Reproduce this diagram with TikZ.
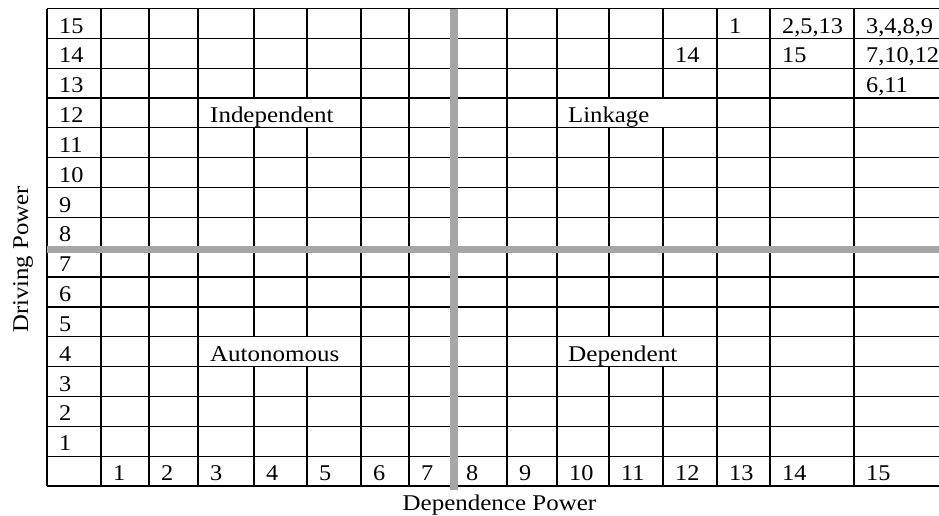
\documentclass[tikz,border=0pt]{standalone}
\usepackage{fontspec}
\setmainfont{Liberation Serif}
\definecolor{sepgray}{RGB}{166,166,166}
\newcommand{\hs}[2][1.1]{\scalebox{#1}[1]{#2}}
\begin{document}
\begin{tikzpicture}[x=1pt,y=-1pt,
  gridline/.style={line width=1.2pt, black},
  sepline/.style={color=sepgray},
  cell/.style={anchor=base west, inner sep=0pt, font=\fontsize{22.5}{26}\selectfont},
]
\useasboundingbox (0,0) rectangle (939,515);
\clip (0,0) rectangle (939,515);
% horizontal grid lines
\foreach \i in {0,...,16}
  \draw[gridline] (47,{8.5+\i*29.84}) -- (945,{8.5+\i*29.84});
% full vertical lines
\foreach \x in {47,101,149,198,361,409,454,507,557,717,770,854,945}
  \draw[gridline] (\x,8.5) -- (\x,485.9);
% vertical lines interrupted by merged cells (rows 12 and 4)
\foreach \x in {254,307,609,663}{
  \draw[gridline] (\x,8.5) -- (\x,{8.5+3*29.84});
  \draw[gridline] (\x,{8.5+4*29.84}) -- (\x,{8.5+11*29.84});
  \draw[gridline] (\x,{8.5+12*29.84}) -- (\x,485.9);
}
% grey quadrant separators
\draw[sepline, line width=8pt] (454,8.5) -- (454,490);
\draw[sepline, line width=7pt] (47,249) -- (945,249);
% row labels (driving power)
\foreach \r in {15,...,1}
  \node[cell] (row\r) at (59,{8.5+(16-\r)*29.84-5.3}) {\hs[1.08]{\r}};
% column labels (dependence power)
\foreach \c/\x in {1/101,2/149,3/198,4/254,5/307,6/361,7/409,8/454,9/507,10/557,11/609,12/663,13/717,14/770,15/854}
  \node[cell] (col\c) at ({\x+12},{8.5+16*29.84-5.3}) {\hs[1.08]{\c}};
% entries
\node[cell] (e1) at (729,{8.5+1*29.84-5.3}) {\hs[1.08]{1}};
\node[cell] (e2) at (782,{8.5+1*29.84-5.3}) {\hs[1.08]{2,5,13}};
\node[cell] (e3) at (866,{8.5+1*29.84-5.3}) {\hs[1.08]{3,4,8,9}};
\node[cell] (e4) at (675,{8.5+2*29.84-5.3}) {\hs[1.08]{14}};
\node[cell] (e5) at (782,{8.5+2*29.84-5.3}) {\hs[1.08]{15}};
\node[cell] (e6) at (866,{8.5+2*29.84-5.3}) {\hs[1.08]{7,10,12}};
\node[cell] (e7) at (866,{8.5+3*29.84-5.3}) {\hs[1.08]{6,11}};
% quadrant names
\node[cell] (indep) at (210,{8.5+4*29.84-5.3}) {\hs[1.11]{Independent}};
\node[cell] (link) at (568,{8.5+4*29.84-5.3}) {\hs[1.1]{Linkage}};
\node[cell] (auto) at (210,{8.5+12*29.84-5.3}) {\hs[1.11]{Autonomous}};
\node[cell] (dep) at (568,{8.5+12*29.84-5.3}) {\hs[1.12]{Dependent}};
% axis titles
\node[cell, rotate=90] (ytitle) at (28,333) {\hs[1.1]{Driving Power}};
\node[cell] (xtitle) at (402.5,510) {\hs[1.11]{Dependence Power}};
\end{tikzpicture}
\end{document}
